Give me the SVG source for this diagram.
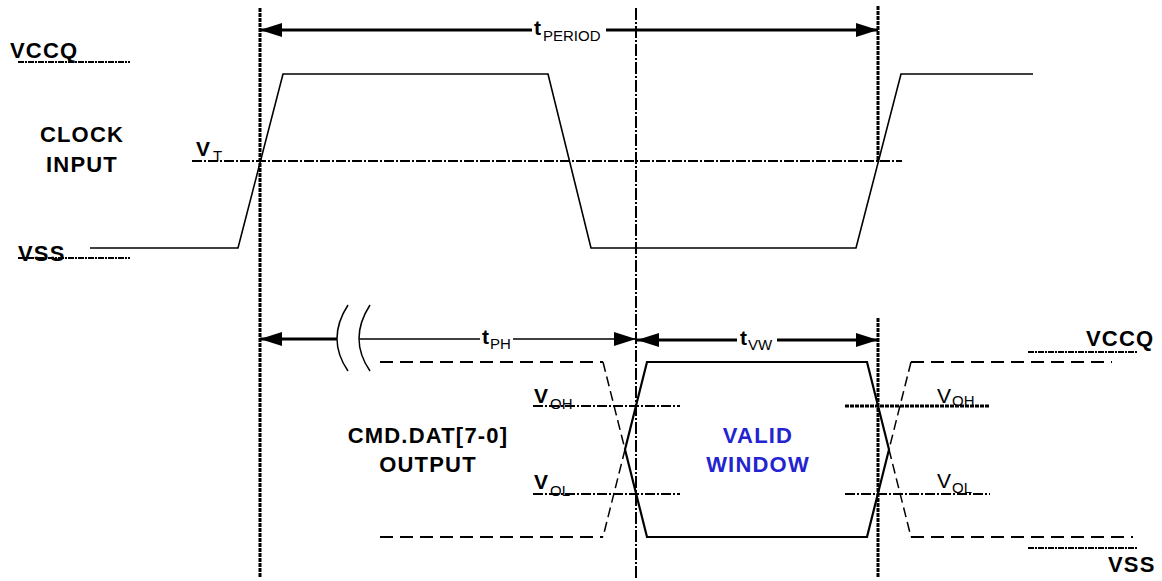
<svg xmlns="http://www.w3.org/2000/svg" width="1162" height="581" viewBox="0 0 1162 581">
<defs>
<marker id="ah" viewBox="0 0 22 14" refX="22" refY="7" markerWidth="22" markerHeight="14" markerUnits="userSpaceOnUse" orient="auto-start-reverse"><path d="M0,0 L22,7 L0,14 Z" fill="#000"/></marker>
</defs>
<style>
.lbl{font-family:"Liberation Sans",Arial,sans-serif;font-weight:bold;font-size:22px;letter-spacing:1.2px;fill:#000}
.sym{font-family:"Liberation Sans",Arial,sans-serif;font-size:21px;fill:#000}
.sub{font-size:15px;font-weight:normal;letter-spacing:0}
.wave{fill:none;stroke:#000;stroke-width:1.6}
.solid{fill:none;stroke:#000;stroke-width:2.2}
.vdot{fill:none;stroke:#000;stroke-width:3;stroke-dasharray:4 1}
.vdash{fill:none;stroke:#000;stroke-width:2;stroke-dasharray:12 2 2 2}
.ref{fill:none;stroke:#000;stroke-width:2.2;stroke-dasharray:10 2 2 2}
.uline{fill:none;stroke:#000;stroke-width:2;stroke-dasharray:6 1 2 1}
.dh{fill:none;stroke:#000;stroke-width:2.2;stroke-dasharray:13 7}
.ds{fill:none;stroke:#000;stroke-width:1.5;stroke-dasharray:10 5}
.arr{fill:none;stroke:#000;stroke-width:3}
.thin{fill:none;stroke:#000;stroke-width:1.5}
</style>

<g id="guides">
<line class="vdot" x1="260" y1="8" x2="260" y2="578"/>
<line class="vdash" x1="636" y1="8" x2="636" y2="578"/>
<line class="vdot" x1="878" y1="6" x2="878" y2="162"/>
<line class="vdot" x1="878" y1="318" x2="878" y2="578"/>
<line class="ref" x1="192" y1="161" x2="902" y2="161"/>
<line class="ref" x1="533" y1="406" x2="680" y2="406"/>
<line class="ref" x1="533" y1="494" x2="680" y2="494"/>
<line class="vdot" x1="845" y1="406" x2="990" y2="406"/>
<line class="ref" x1="845" y1="494" x2="990" y2="494"/>
<line class="uline" x1="18" y1="62" x2="130" y2="62"/>
<line class="uline" x1="18" y1="258" x2="130" y2="258"/>
<line class="uline" x1="1028" y1="352" x2="1138" y2="352"/>
<line class="uline" x1="1028" y1="548" x2="1138" y2="548"/>
</g>

<g id="clock">
<path class="wave" d="M90,248 H238 L283,74 H548 L591,248 H856 L901,74 H1033"/>
</g>

<g id="data">
<path class="dh" d="M380,362 H603 M380,537 H603"/>
<path class="ds" d="M603,362 L625,449.5 L603,537"/>
<path class="solid" d="M625,449.5 L647,362 H867 L889,449.5 L867,537 H647 Z"/>
<path class="ds" d="M911,362 L889,449.5 L911,537"/>
<path class="dh" d="M911,362 H1112 M911,537 H1133"/>
</g>

<g id="connectors">
<line class="arr" x1="260" y1="30" x2="532" y2="30" marker-start="url(#ah)"/>
<line class="arr" x1="606" y1="30" x2="878" y2="30" marker-end="url(#ah)"/>
<line class="arr" x1="260" y1="339" x2="337" y2="339" marker-start="url(#ah)"/>
<path class="thin" d="M348,305 Q326,339 348,371 M370,305 Q348,339 370,371"/>
<line class="thin" x1="359" y1="339" x2="480" y2="339"/>
<line class="thin" x1="513" y1="339" x2="636" y2="339" marker-end="url(#ah)"/>
<line class="arr" x1="637" y1="340" x2="737" y2="340" marker-start="url(#ah)"/>
<line class="arr" x1="777" y1="340" x2="878" y2="340" marker-end="url(#ah)"/>
</g>

<g id="labels">
<text class="lbl" x="10" y="58">VCCQ</text>
<text class="lbl" x="18" y="261">VSS</text>
<text class="lbl" x="82" y="142" text-anchor="middle">CLOCK</text>
<text class="lbl" x="82" y="172" text-anchor="middle">INPUT</text>
<text class="sym" x="196" y="156" font-weight="bold">V<tspan class="sub" x="213" y="161">T</tspan></text>
<text class="sym" x="534" y="35" font-weight="bold">t<tspan class="sub" x="543" y="41">PERIOD</tspan></text>
<text class="sym" x="482" y="344" font-weight="bold">t<tspan class="sub" font-weight="bold" x="490" y="349">PH</tspan></text>
<text class="sym" x="740" y="345" font-weight="bold">t<tspan class="sub" font-weight="bold" x="748" y="350">VW</tspan></text>
<text class="sym" x="534" y="403" font-weight="bold">V<tspan class="sub" x="550" y="409">OH</tspan></text>
<text class="sym" x="534" y="489" font-weight="bold">V<tspan class="sub" x="550" y="496">OL</tspan></text>
<text class="sym" x="937" y="403">V<tspan class="sub" x="952" y="406">OH</tspan></text>
<text class="sym" x="937" y="488">V<tspan class="sub" x="952" y="493">OL</tspan></text>
<text class="lbl" x="428" y="443" text-anchor="middle">CMD.DAT[7-0]</text>
<text class="lbl" x="428" y="472" text-anchor="middle">OUTPUT</text>
<text class="lbl" x="758" y="443" text-anchor="middle" style="fill:#2323d0">VALID</text>
<text class="lbl" x="758" y="472" text-anchor="middle" style="fill:#2323d0">WINDOW</text>
<text class="lbl" x="1086" y="346">VCCQ</text>
<text class="lbl" x="1108" y="572">VSS</text>
</g>
</svg>
